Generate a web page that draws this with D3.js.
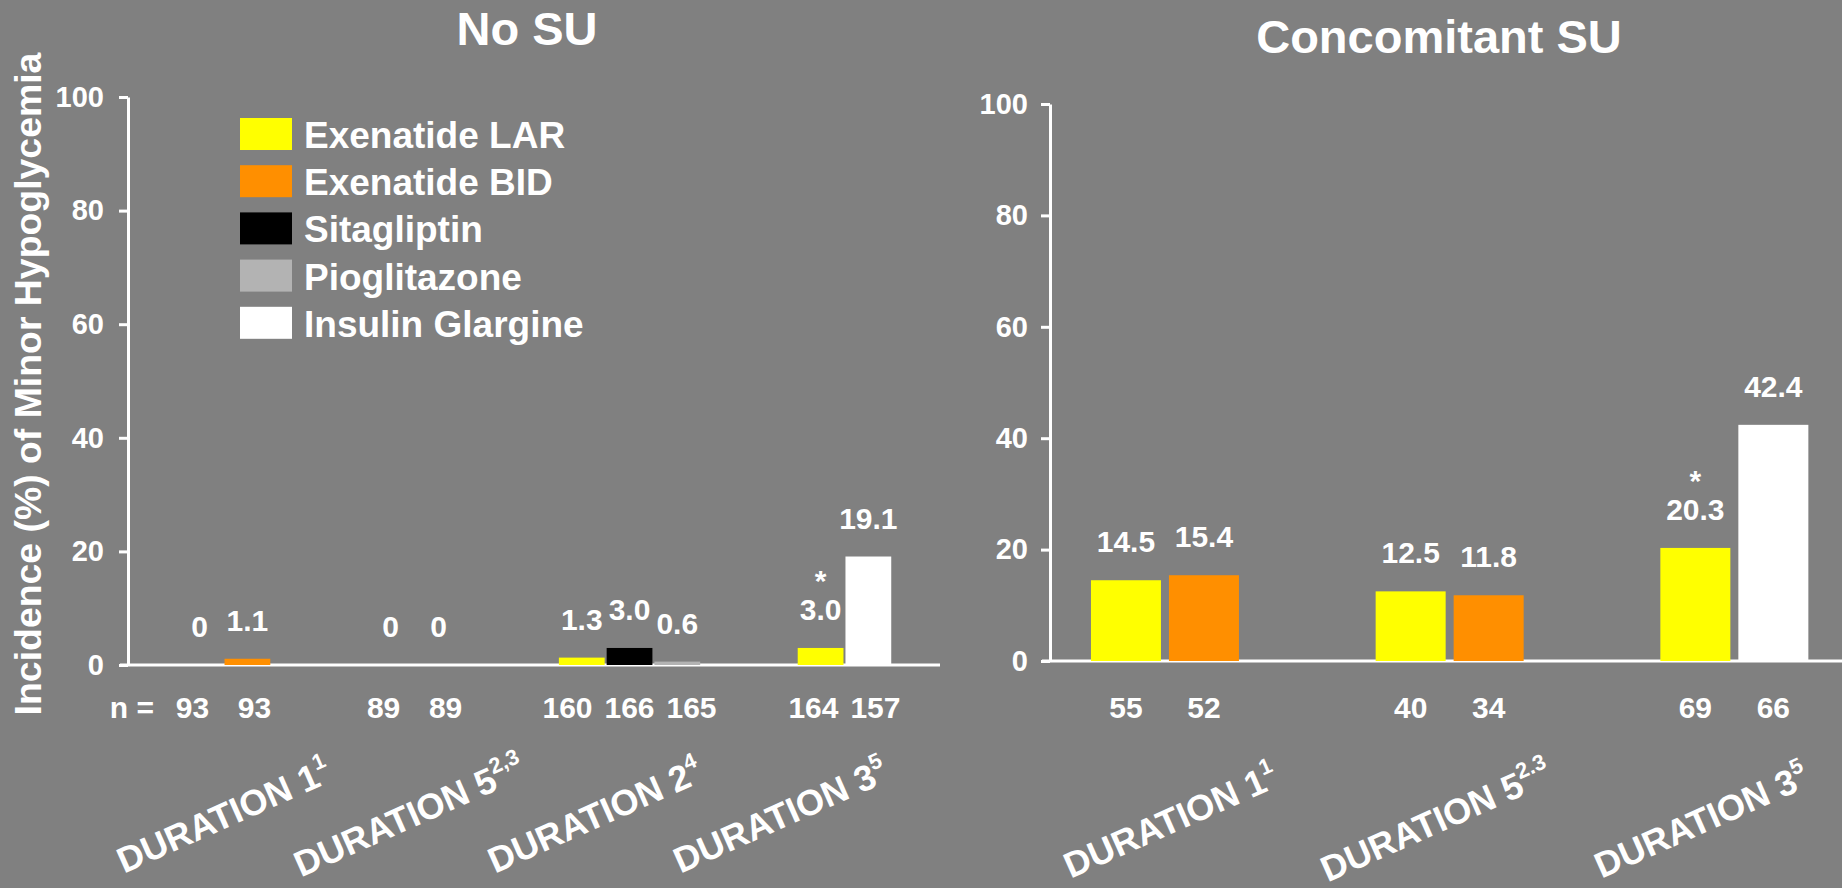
<!DOCTYPE html>
<html>
<head>
<meta charset="utf-8">
<script src="https://cdn.jsdelivr.net/npm/d3@7"></script>
<style>
  html, body { margin: 0; padding: 0; background: #808080; }
  svg { display: block; }
  text { font-family: "Liberation Sans", Arial, sans-serif; font-weight: bold; fill: #ffffff; }
</style>
</head>
<body>
<svg id="chart" width="1842" height="888"></svg>
<script>
// Treatment arms and their colours
const seriesNames = ["Exenatide LAR", "Exenatide BID", "Sitagliptin", "Pioglitazone", "Insulin Glargine"];
const seriesColors = ["#FFFF00", "#FF8F00", "#000000", "#B3B3B3", "#FFFFFF"];

// No SU: studies, arms per study, incidence (%) and n per arm
const noSuCategories = ["DURATION 1", "DURATION 5", "DURATION 2", "DURATION 3"];
const noSuRefs = ["1", "2,3", "4", "5"];
const noSuArms = [
  ["Exenatide LAR", "Exenatide BID"],
  ["Exenatide LAR", "Exenatide BID"],
  ["Exenatide LAR", "Sitagliptin", "Pioglitazone"],
  ["Exenatide LAR", "Insulin Glargine"]
];
const noSuValues = [[0, 1.1], [0, 0], [1.3, 3.0, 0.6], [3.0, 19.1]];
const noSuN = [[93, 93], [89, 89], [160, 166, 165], [164, 157]];
const noSuStars = [[false, false], [false, false], [false, false, false], [true, false]];

// Concomitant SU
const suCategories = ["DURATION 1", "DURATION 5", "DURATION 3"];
const suRefs = ["1", "2.3", "5"];
const suArms = [
  ["Exenatide LAR", "Exenatide BID"],
  ["Exenatide LAR", "Exenatide BID"],
  ["Exenatide LAR", "Insulin Glargine"]
];
const suValues = [[14.5, 15.4], [12.5, 11.8], [20.3, 42.4]];
const suN = [[55, 52], [40, 34], [69, 66]];
const suStars = [[false, false], [false, false], [true, false]];

const yTicks = [0, 20, 40, 60, 80, 100];
const yLabel = "Incidence (%) of Minor Hypoglycemia";

const svg = d3.select("#chart");
const color = d3.scaleOrdinal(seriesNames, seriesColors);
const fmt = v => v === 0 ? "0" : d3.format(".1f")(v);

function drawPanel(cfg) {
  const g = svg.append("g");
  const y = d3.scaleLinear().domain([0, 100]).range([cfg.y0, cfg.y100]);

  // Slot layout: each study takes one slot per arm plus a gap
  const total = d3.sum(cfg.arms, a => a.length + cfg.gap);
  const x = d3.scaleLinear().domain([0, total]).range(cfg.slotRange);
  const slotW = x(1) - x(0);
  const nStep = Math.max(slotW, 62);
  let acc = 0;
  const bars = [];
  cfg.arms.forEach((arms, i) => {
    const start = acc + cfg.gap / 2;
    const mid = x(start + arms.length / 2);
    arms.forEach((name, j) => {
      bars.push({
        cat: i, name, value: cfg.values[i][j], n: cfg.n[i][j], star: cfg.stars[i][j],
        x0: x(start + j) + cfg.inset, x1: x(start + j + 1) - cfg.inset,
        nx: mid + (j - (arms.length - 1) / 2) * nStep
      });
    });
    acc += arms.length + cfg.gap;
  });

  // x baseline
  g.append("line")
    .attr("x1", cfg.axisX - 8).attr("x2", cfg.xEnd)
    .attr("y1", y(0)).attr("y2", y(0))
    .attr("stroke", "#fff").attr("stroke-width", 3);

  // y axis
  const axis = g.append("g")
    .attr("transform", `translate(${cfg.axisX},0)`)
    .call(d3.axisLeft(y).tickValues(yTicks).tickSize(9).tickSizeOuter(0).tickPadding(cfg.tickPad));
  axis.select(".domain").attr("stroke", "#fff").attr("stroke-width", 3);
  axis.selectAll(".tick line").attr("stroke", "#fff").attr("stroke-width", 3);
  axis.selectAll(".tick text")
    .attr("fill", "#fff").style("font-size", "29px")
    .style("font-family", '"Liberation Sans", Arial, sans-serif').style("font-weight", "bold");

  // bars
  g.selectAll("rect.bar").data(bars).join("rect")
    .attr("class", "bar")
    .attr("x", d => d.x0).attr("width", d => d.x1 - d.x0)
    .attr("y", d => y(d.value)).attr("height", d => y(0) - y(d.value))
    .attr("fill", d => color(d.name));

  // value labels
  g.selectAll("text.val").data(bars).join("text")
    .attr("class", "val")
    .attr("x", d => (d.x0 + d.x1) / 2)
    .attr("y", d => y(d.value) - 28)
    .attr("text-anchor", "middle").style("font-size", "30px")
    .text(d => fmt(d.value));

  g.selectAll("text.star").data(bars.filter(d => d.star)).join("text")
    .attr("class", "star")
    .attr("x", d => (d.x0 + d.x1) / 2)
    .attr("y", d => y(d.value) - 57)
    .attr("text-anchor", "middle").style("font-size", "30px")
    .text("*");

  // n per arm
  g.selectAll("text.n").data(bars).join("text")
    .attr("class", "n")
    .attr("x", d => d.nx)
    .attr("y", 718)
    .attr("text-anchor", "middle").style("font-size", "30px")
    .text(d => d.n);
  if (cfg.nPrefix) {
    g.append("text").attr("x", 154).attr("y", 718)
      .attr("text-anchor", "end").style("font-size", "30px").text("n =");
  }

  // study labels
  const lx = d3.scaleBand().domain(cfg.categories).range(cfg.labelRange);
  const lab = g.selectAll("text.cat").data(cfg.categories).join("text")
    .attr("class", "cat")
    .attr("text-anchor", "middle")
    .attr("transform", d => `translate(${lx(d) + lx.bandwidth() / 2 + 6},${cfg.labelY}) rotate(-24)`)
    .style("font-size", "36px");
  lab.append("tspan").text(d => d);
  lab.append("tspan").attr("dy", -16).style("font-size", "22px")
    .text((d, i) => cfg.refs[i]);

  // title
  g.append("text").attr("x", cfg.titleX).attr("y", cfg.titleY)
    .attr("text-anchor", "middle").style("font-size", "47px").text(cfg.title);
}

drawPanel({
  title: "No SU", titleX: 527, titleY: 45,
  categories: noSuCategories, refs: noSuRefs, arms: noSuArms,
  values: noSuValues, n: noSuN, stars: noSuStars,
  axisX: 128, xEnd: 940, y0: 665, y100: 97, tickPad: 15,
  slotRange: [128, 940], gap: 2, inset: 1,
  labelRange: [130, 872], labelY: 827, nPrefix: true
});

drawPanel({
  title: "Concomitant SU", titleX: 1439, titleY: 53,
  categories: suCategories, refs: suRefs, arms: suArms,
  values: suValues, n: suN, stars: suStars,
  axisX: 1050, xEnd: 1842, y0: 661, y100: 104, tickPad: 13,
  slotRange: [1022.6, 1876.7], gap: 1.65, inset: 4,
  labelRange: [1037, 1833], labelY: 832, nPrefix: false
});

// y-axis title
svg.append("text")
  .attr("transform", "translate(41,384) rotate(-90)")
  .attr("text-anchor", "middle").style("font-size", "37.4px")
  .text(yLabel);

// legend
const legend = svg.append("g").attr("transform", "translate(240,118)");
const li = legend.selectAll("g").data(seriesNames).join("g")
  .attr("transform", (d, i) => `translate(0,${i * 47.2})`);
li.append("rect").attr("width", 52).attr("height", 32).attr("fill", d => color(d));
li.append("text").attr("x", 64).attr("y", 30).style("font-size", "37px").text(d => d);
</script>
</body>
</html>
